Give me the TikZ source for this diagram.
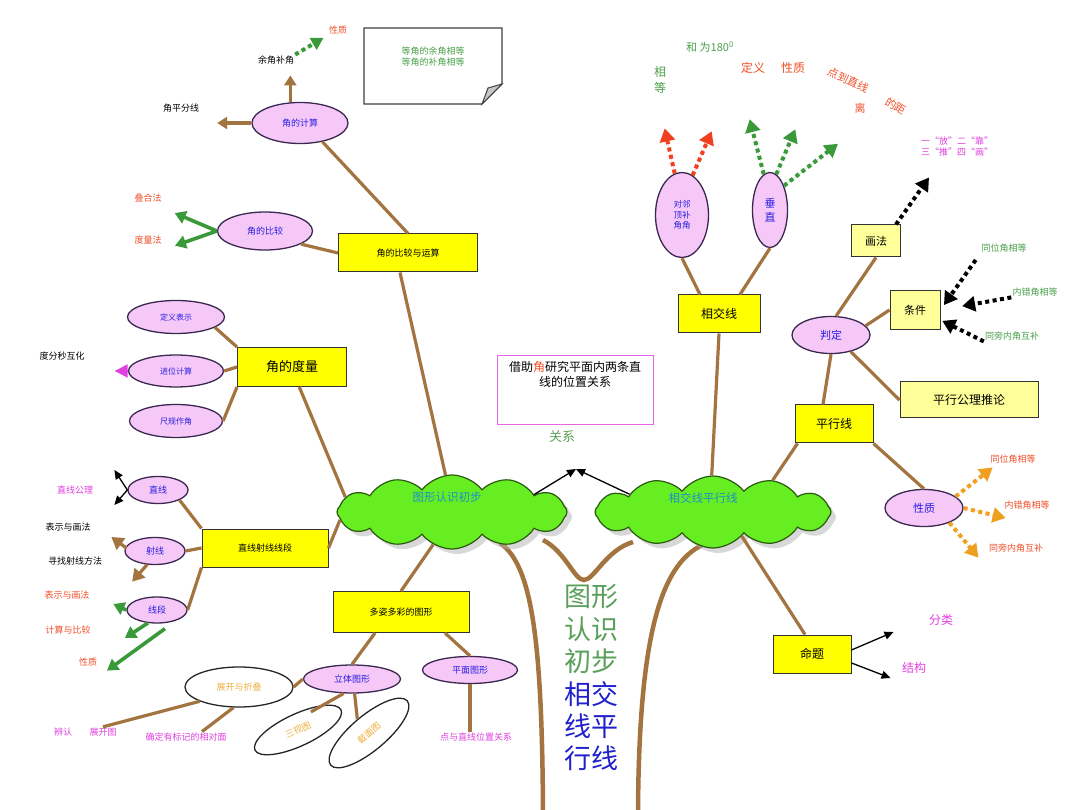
\documentclass[tikz,border=0pt]{standalone}
\usepackage{fontspec}
\setmainfont{Noto Sans CJK SC}
\usetikzlibrary{arrows.meta,positioning,shapes.geometric,shapes.symbols,shadows}

\definecolor{brownln}{HTML}{A3743F}
\definecolor{ovalfill}{HTML}{F6C8F8}
\definecolor{ovalline}{HTML}{3A2850}
\definecolor{ovaltext}{HTML}{2A1EE0}
\definecolor{boxyellow}{HTML}{FFFF00}
\definecolor{paleyellow}{HTML}{FFFF99}
\definecolor{leafgreen}{HTML}{66EE22}
\definecolor{leafline}{HTML}{2A5A10}
\definecolor{cloudtext}{HTML}{1E90C8}
\definecolor{arrgreen}{HTML}{3A9A3A}
\definecolor{lblred}{HTML}{F0502A}
\definecolor{lblmag}{HTML}{E040E0}
\definecolor{lblgreen}{HTML}{4AA04A}
\definecolor{dotorange}{HTML}{F0A020}
\definecolor{dotred}{HTML}{F04020}
\definecolor{foldorange}{HTML}{F0B040}
\definecolor{trunkgreen}{HTML}{5AA05A}
\definecolor{trunkblue}{HTML}{2020CC}

\newcommand\setfs[2]{\fontsize{#1}{#2}\selectfont}

\begin{document}
\begin{tikzpicture}[x=1pt,y=-1pt,
  every node/.style={font=\setfs{9}{11},inner sep=1pt},
  oval/.style={ellipse,draw=ovalline,fill=ovalfill,line width=1.3pt,text=ovaltext,inner sep=0pt},
  plain/.style={ellipse,draw=black!85,fill=white,line width=1.3pt,text=foldorange,inner sep=0pt},
  ybox/.style={draw=black!80,fill=boxyellow,line width=1pt,inner sep=0pt},
  pbox/.style={ybox,fill=paleyellow},
  leaf/.style={cloud,cloud puffs=12,cloud puff arc=105,cloud ignores aspect,draw=leafline,
    fill=leafgreen,line width=1.2pt,drop shadow={shadow xshift=5pt,shadow yshift=-5pt,fill=black!30}},
  link/.style={draw=brownln,line width=3.2pt},
  trunk/.style={draw=brownln,line width=4.5pt},
  barrow/.style={link,-{Triangle[width=12pt,length=10pt]}},
  garrow/.style={draw=arrgreen,line width=3.6pt,-{Triangle[width=13pt,length=11pt]}},
  karrow/.style={draw=black,line width=1.3pt,-{Triangle[width=8pt,length=9pt]}},
  dotarrow/.style={line width=4pt,dash pattern=on 4pt off 3.5pt,-{Triangle[width=15pt,length=13pt]}},
  lred/.style={text=lblred},
  lmag/.style={text=lblmag},
  lgrn/.style={text=lblgreen}]

\useasboundingbox[fill=white] (0,0) rectangle (1080,810);

% trunk of the tree
\draw[trunk] (500,543) .. controls (532,565) and (542,640) .. (543,812);
\draw[trunk] (707,543) .. controls (662,560) and (639,630) .. (638,812);
\draw[trunk] (543,540) .. controls (566,552) and (574,580) .. (584,580)
  .. controls (594,580) and (606,550) .. (633,542);
\foreach \t/\y/\c in {图形/597/trunkgreen,认识/629/trunkgreen,初步/661/trunkgreen,
                      相交/694/trunkblue,线平/726/trunkblue,行线/758/trunkblue}
  \node[text=\c,font=\setfs{27}{27}] (tr\y) at (591,\y) {\t};

% the two crowns
\node[leaf,minimum width=230pt,minimum height=74pt] (cloudA) at (452,512) {};
\node[leaf,minimum width=236pt,minimum height=72pt] (cloudB) at (713,512) {};
\node[text=cloudtext,font=\setfs{11.5}{13}] (tA) at (447,497) {图形认识初步};
\node[text=cloudtext,font=\setfs{11.5}{13}] (tB) at (703,498) {相交线平行线};

\node[draw=lblmag!80,line width=1pt,minimum width=156pt,minimum height=69pt] (jiezhu) at (575,390) {};
\node[align=center,anchor=north,font=\setfs{12}{15}] (jztext) at ([shift={(0,5)}]jiezhu.north)
  {借助\textcolor{lblred}{角}研究平面内两条直\\线的位置关系};
\node[text=trunkgreen,font=\setfs{13}{15}] (guanxi) at (562,437) {关系};
\coordinate (meet) at (576,469);
\draw[karrow] (cloudA.12) -- (meet);
\draw[karrow] (cloudB.168) -- (meet);

% ---- left half: 图形认识初步 ----
\node[oval,minimum width=96pt,minimum height=41pt] (jisuan) at (300,123) {角的计算};
\node (bisect) at (181,108) {角平分线};
\node (yubu) at (276,60) {余角补角};
\node[lred] (yuxz) at (338,30) {性质};
\draw[barrow,shorten >=17pt] (jisuan.west) -- (jisuan.west -| bisect.east);
\draw[barrow,shorten >=10pt] (jisuan.115) -- (jisuan.115 |- yubu.south);
\draw[dotarrow,draw=arrgreen,fill=arrgreen,-{Triangle[width=13pt,length=12pt]},shorten >=5pt]
  (yubu.north east) -- (yuxz.south west);

\draw[black!75,line width=1.2pt,fill=white] (364,28) -- (502,28) -- (502,84) -- (482,104) -- (364,104) -- cycle;
\draw[black!75,line width=1pt,fill=gray!45] (482,104) -- (488,88) -- (502,84) -- cycle;
\node[lgrn,align=center] (note) at (433,57) {等角的余角相等\\等角的补角相等};

\node[ybox,minimum width=139pt,minimum height=38pt] (bjys) at (408,253) {角的比较与运算};
\node[oval,minimum width=95pt,minimum height=38pt] (bijiao) at (265,231) {角的比较};
\node[lred] (diehe) at (148,198) {叠合法};
\node[lred] (duliang) at (148,240) {度量法};
\draw[link] (jisuan.-40) -- (bjys.north);
\draw[link] (bijiao.-20) -- (bjys.west);
\draw[garrow,shorten >=13pt] (bijiao.west) -- ([shift={(0,10)}]diehe.east);
\draw[garrow,shorten >=13pt] (bijiao.west) -- ([shift={(0,10)}]duliang.east);
\draw[link] ([shift={(-8,0)}]bjys.south) -- (cloudA.100);

\node[ybox,minimum width=109pt,minimum height=39pt,font=\setfs{13}{15}] (dlbox) at (292,367) {角的度量};
\node[oval,minimum width=97pt,minimum height=33pt,font=\setfs{8}{10}] (dingyi) at (176,317) {定义表示};
\node[oval,minimum width=95pt,minimum height=32pt,font=\setfs{8}{10}] (jinwei) at (176,371) {进位计算};
\node[oval,minimum width=93pt,minimum height=33pt,font=\setfs{8}{10}] (chigui) at (176,421) {尺规作角};
\node (dfm) at (62,356) {度分秒互化};
\draw[link] (dingyi.-15) -- (dlbox.north west);
\draw[link] (jinwei.east) -- (dlbox.west);
\draw[link] (chigui.east) -- (dlbox.south west);
\draw[draw=lblmag,line width=2pt,-{Triangle[width=13pt,length=13pt]},shorten >=29pt] (jinwei.west) -- (jinwei.west -| dfm.east);
\draw[link] (dlbox.-70) -- (cloudA.172);

\node[ybox,minimum width=126pt,minimum height=38pt] (zxsd) at (265,548) {直线射线线段};
\node[oval,minimum width=60pt,minimum height=27pt] (zx) at (158,490) {直线};
\node[oval,minimum width=60pt,minimum height=27pt] (sx) at (155,551) {射线};
\node[oval,minimum width=60pt,minimum height=26pt] (xd) at (157,610) {线段};
\node[lmag] (zxgl) at (75,490) {直线公理};
\node (bshf) at (68,527) {表示与画法};
\node (xzff) at (75,561) {寻找射线方法};
\node[lred] (bshf2) at (67,595) {表示与画法};
\node[lred] (jsbj) at (68,630) {计算与比较};
\node[lred] (xdxz) at (88,662) {性质};
\draw[link] (zx.-25) -- (zxsd.north west);
\draw[link] (sx.east) -- (zxsd.west);
\draw[link] (xd.east) -- (zxsd.south west);
\draw[link] (zxsd.east) -- (cloudA.184);
\draw[karrow] (zx.west) -- ([shift={(-13,-20)}]zx.west);
\draw[karrow] (zx.west) -- ([shift={(-13,15)}]zx.west);
\draw[barrow,-{Triangle[width=14pt,length=12pt]}] ([shift={(2,-3)}]sx.west) -- ([shift={(-13,-14)}]sx.west);
\draw[barrow,-{Triangle[width=14pt,length=12pt]}] (sx.-120) -- ([shift={(-15,17)}]sx.-120);
\draw[garrow] (xd.west) -- ([shift={(-13,-6)}]xd.west);
\draw[garrow] (xd.-125) -- ([shift={(-23,15)}]xd.-125);
\draw[garrow] ([shift={(8,5)}]xd.south) -- ([shift={(-50,47)}]xd.south);

\node[ybox,minimum width=136pt,minimum height=41pt] (dzdc) at (401,612) {多姿多彩的图形};
\node[oval,minimum width=97pt,minimum height=28pt] (ltxt) at (352,679) {立体图形};
\node[oval,minimum width=95pt,minimum height=27pt] (pmtx) at (470,670) {平面图形};
\node[plain,minimum width=108pt,minimum height=40pt] (zkzd) at (239,687) {展开与折叠};
\node[plain,rotate=25,minimum width=95pt,minimum height=32pt] (ssv) at (298,730) {三视图};
\node[plain,rotate=40,minimum width=100pt,minimum height=35pt] (jmt) at (369,733) {截面图};
\node[lmag] (bianren) at (63,732) {辨认};
\node[lmag] (zhankai) at (103,732) {展开图};
\node[lmag] (queding) at (186,737) {确定有标记的相对面};
\node[lmag] (dzyzx) at (476,737) {点与直线位置关系};
\draw[link] (cloudA.-120) -- (dzdc.north);
\draw[link] ([shift={(-26,0)}]dzdc.south) -- (ltxt.north);
\draw[link] ([shift={(44,0)}]dzdc.south) -- (pmtx.north);
\draw[link] (ltxt.west) -- (zkzd.east);
\draw[link] (ltxt.-120) -- ([shift={(20,-3)}]ssv.north);
\draw[link] (ltxt.-80) -- (jmt.north);
\draw[link] (pmtx.south) -- (pmtx.south |- dzyzx.north);
\draw[link] (zkzd.200) -- (zhankai.north);
\draw[link] (zkzd.-105) -- ([shift={(16,0)}]queding.north);

% ---- right half: 相交线平行线 ----
\node[ybox,minimum width=82pt,minimum height=38pt,font=\setfs{12}{14}] (xjx) at (719,314) {相交线};
\node[oval,minimum width=53pt,minimum height=85pt,align=center,font=\setfs{8.5}{10.5}] (dlj) at (682,215) {对邻\\顶补\\角角};
\node[oval,minimum width=35pt,minimum height=75pt,align=center,font=\setfs{11}{14}] (cz) at (770,210) {垂\\直};
\draw[link] (dlj.south) -- ([shift={(-19,0)}]xjx.north);
\draw[link] (cz.south) -- ([shift={(21,0)}]xjx.north);
\draw[link] (xjx.south) -- (cloudB.92);
\draw[dotarrow,draw=dotred,fill=dotred] (dlj.100) -- ([shift={(-10,-45)}]dlj.100);
\draw[dotarrow,draw=dotred,fill=dotred] (dlj.75) -- ([shift={(19,-44)}]dlj.75);
\draw[dotarrow,draw=arrgreen,fill=arrgreen] (cz.100) -- ([shift={(-14,-55)}]cz.100);
\draw[dotarrow,draw=arrgreen,fill=arrgreen] (cz.80) -- ([shift={(19,-45)}]cz.80);
\draw[dotarrow,draw=arrgreen,fill=arrgreen] (cz.60) -- ([shift={(54,-42)}]cz.60);
\node[lgrn,align=center,font=\setfs{12}{16}] (xiangdeng) at (660,80) {相\\等};
\node[lgrn,font=\setfs{11}{13}] (he180) at (710,47) {和 为180\textsuperscript{0}};
\node[lred,font=\setfs{12}{14}] (dingyiR) at (753,68) {定义};
\node[lred,font=\setfs{12}{14}] (xingzhiR) at (793,68) {性质};
\node[lred,rotate=-25,font=\setfs{11}{13}] (ddzx) at (848,80) {点到直线};
\node[lred,font=\setfs{11}{13}] (li) at (860,108) {离};
\node[lred,rotate=-30,font=\setfs{11}{13}] (deju) at (896,106) {的距};

\node[oval,minimum width=78pt,minimum height=37pt,font=\setfs{11}{13}] (pd) at (831,335) {判定};
\node[pbox,minimum width=49pt,minimum height=32pt,font=\setfs{11}{13}] (huafa) at (876,241) {画法};
\node[pbox,minimum width=50pt,minimum height=39pt,font=\setfs{11}{13}] (tj) at (915,310) {条件};
\node[pbox,minimum width=138pt,minimum height=36pt,font=\setfs{12}{14}] (pxgl) at (969,400) {平行公理推论};
\node[ybox,minimum width=78pt,minimum height=38pt,font=\setfs{12}{14}] (pxx) at (834,424) {平行线};
\node[lmag,align=center] (yikao) at (957,147) {一“放”二“靠”\\三“推”四“画”};
\node[lgrn] (twjxd) at (1004,248) {同位角相等};
\node[lgrn] (ncjxd) at (1035,292) {内错角相等};
\node[lgrn] (tpnjhb) at (1012,336) {同旁内角互补};
\draw[link] (pd.75) -- (huafa.south);
\draw[link] (pd.15) -- (tj.west);
\draw[link] (pd.-40) -- (pxgl.west);
\draw[link] (pd.south) -- ([shift={(-11,0)}]pxx.north);
\draw[link] ([shift={(3,0)}]pxx.south west) -- (cloudB.28);
\draw[dotarrow] ([shift={(-5,0)}]huafa.north east) -- ([shift={(28,-47)}]huafa.north east);
\draw[dotarrow,shorten <=8pt,shorten >=6pt] (twjxd.south west) -- (tj.east);
\draw[dotarrow,shorten >=22pt] (ncjxd.south west) -- (tj.east);
\draw[dotarrow,shorten >=2pt] (tpnjhb.south west) -- ([shift={(0,10)}]tj.east);

\node[oval,minimum width=78pt,minimum height=37pt,font=\setfs{11}{13}] (xz) at (924,508) {性质};
\node[lred] (twR) at (1013,459) {同位角相等};
\node[lred] (ncR) at (1027,505) {内错角相等};
\node[lred] (tpR) at (1016,548) {同旁内角互补};
\draw[link] (pxx.south east) -- (xz.north);
\draw[dotarrow,draw=dotorange,fill=dotorange] (xz.20) -- ([shift={(37,-29)}]xz.20);
\draw[dotarrow,draw=dotorange,fill=dotorange] (xz.east) -- ([shift={(42,10)}]xz.east);
\draw[dotarrow,draw=dotorange,fill=dotorange] (xz.-30) -- ([shift={(29,35)}]xz.-30);

\node[ybox,minimum width=78pt,minimum height=38pt,font=\setfs{12}{14}] (mt) at (812,654) {命题};
\node[lmag,font=\setfs{12}{14}] (fenlei) at (941,620) {分类};
\node[lmag,font=\setfs{12}{14}] (jiegou) at (914,668) {结构};
\draw[link] (cloudB.-40) -- ([shift={(-7,0)}]mt.north);
\draw[karrow] ([shift={(0,-4)}]mt.east) -- ([shift={(42,-22)}]mt.east);
\draw[karrow] ([shift={(0,9)}]mt.east) -- ([shift={(39,24)}]mt.east);
\end{tikzpicture}
\end{document}
